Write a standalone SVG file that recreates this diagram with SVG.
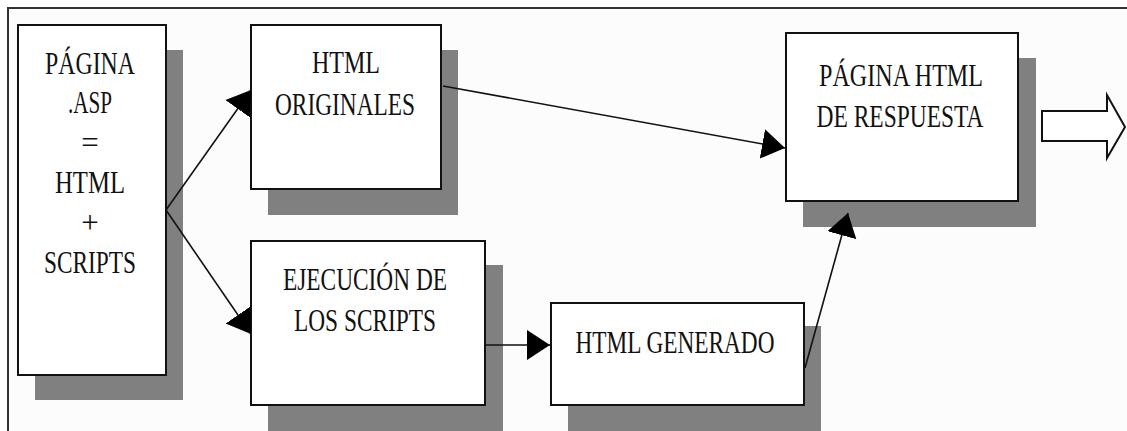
<svg xmlns="http://www.w3.org/2000/svg" width="1127" height="431" viewBox="0 0 1127 431">
  <style>
    .frame { fill: none; stroke: #333; stroke-width: 2; }
    .shadow { fill: #808080; }
    .box { fill: #ffffff; stroke: #111; stroke-width: 2; }
    .label { font-family: "Liberation Serif", "Times New Roman", serif; font-size: 31px; fill: #111; text-anchor: middle; }
    .link { fill: none; stroke: #111; stroke-width: 1.6; }
    .out { fill: #ffffff; stroke: #111; stroke-width: 2; stroke-linejoin: miter; }
  </style>
  <defs>
    <marker id="head" markerUnits="userSpaceOnUse" markerWidth="24" markerHeight="32" viewBox="0 0 24 32" refX="23" refY="16" orient="auto">
      <path d="M0,1 L23,16 L0,31 z" fill="#000"/>
    </marker>
  </defs>

  <!-- background and frame -->
  <rect x="0" y="0" width="1127" height="431" fill="#ffffff"/>
  <rect x="8" y="8" width="1119" height="423" fill="#fcfcfc"/>
  <path class="frame" d="M8,440 L8,8 L1140,8"/>

  <!-- page source -->
  <g id="pagina-asp">
    <rect class="shadow" x="35" y="50" width="148" height="350"/>
    <rect class="box" x="18" y="25" width="148" height="350"/>
    <text class="label" x="90" y="74" textLength="90" lengthAdjust="spacingAndGlyphs">PÁGINA</text>
    <text class="label" x="90" y="113" textLength="44" lengthAdjust="spacingAndGlyphs">.ASP</text>
    <text class="label" x="90" y="153">=</text>
    <text class="label" x="90" y="193" textLength="70" lengthAdjust="spacingAndGlyphs">HTML</text>
    <text class="label" x="90" y="233">+</text>
    <text class="label" x="90" y="273" textLength="92" lengthAdjust="spacingAndGlyphs">SCRIPTS</text>
  </g>

  <!-- original HTML -->
  <g id="html-originales">
    <rect class="shadow" x="268" y="50" width="190" height="165"/>
    <rect class="box" x="251" y="25" width="190" height="164"/>
    <text class="label" x="346" y="73" textLength="68" lengthAdjust="spacingAndGlyphs">HTML</text>
    <text class="label" x="345" y="115" textLength="140" lengthAdjust="spacingAndGlyphs">ORIGINALES</text>
  </g>

  <!-- script execution -->
  <g id="ejecucion-scripts">
    <rect class="shadow" x="268" y="265" width="235" height="180"/>
    <rect class="box" x="251" y="241" width="234" height="164"/>
    <text class="label" x="365" y="290" textLength="164" lengthAdjust="spacingAndGlyphs">EJECUCIÓN DE</text>
    <text class="label" x="365" y="331" textLength="142" lengthAdjust="spacingAndGlyphs">LOS SCRIPTS</text>
  </g>

  <!-- generated HTML -->
  <g id="html-generado">
    <rect class="shadow" x="568" y="326" width="253" height="120"/>
    <rect class="box" x="551" y="303" width="253" height="102"/>
    <text class="label" x="675" y="353" textLength="199" lengthAdjust="spacingAndGlyphs">HTML GENERADO</text>
  </g>

  <!-- response page -->
  <g id="pagina-respuesta">
    <rect class="shadow" x="803" y="58" width="233" height="169"/>
    <rect class="box" x="786" y="33" width="232" height="168"/>
    <text class="label" x="901" y="86" textLength="164" lengthAdjust="spacingAndGlyphs">PÁGINA HTML</text>
    <text class="label" x="900" y="127" textLength="167" lengthAdjust="spacingAndGlyphs">DE RESPUESTA</text>
  </g>

  <!-- outgoing hollow arrow -->
  <g id="salida">
    <path class="out" d="M1042,111 L1107,111 L1107,95 L1125,127 L1107,158 L1107,141 L1042,141 z"/>
  </g>

  <!-- connectors -->
  <g id="connectors">
    <line class="link" x1="166" y1="210" x2="251" y2="90" marker-end="url(#head)"/>
    <line class="link" x1="166" y1="210" x2="251" y2="334" marker-end="url(#head)"/>
    <line class="link" x1="443" y1="86" x2="785" y2="148" marker-end="url(#head)"/>
    <line class="link" x1="485" y1="345" x2="550" y2="345" marker-end="url(#head)"/>
    <line class="link" x1="805" y1="368" x2="848" y2="213" marker-end="url(#head)"/>
  </g>
</svg>
